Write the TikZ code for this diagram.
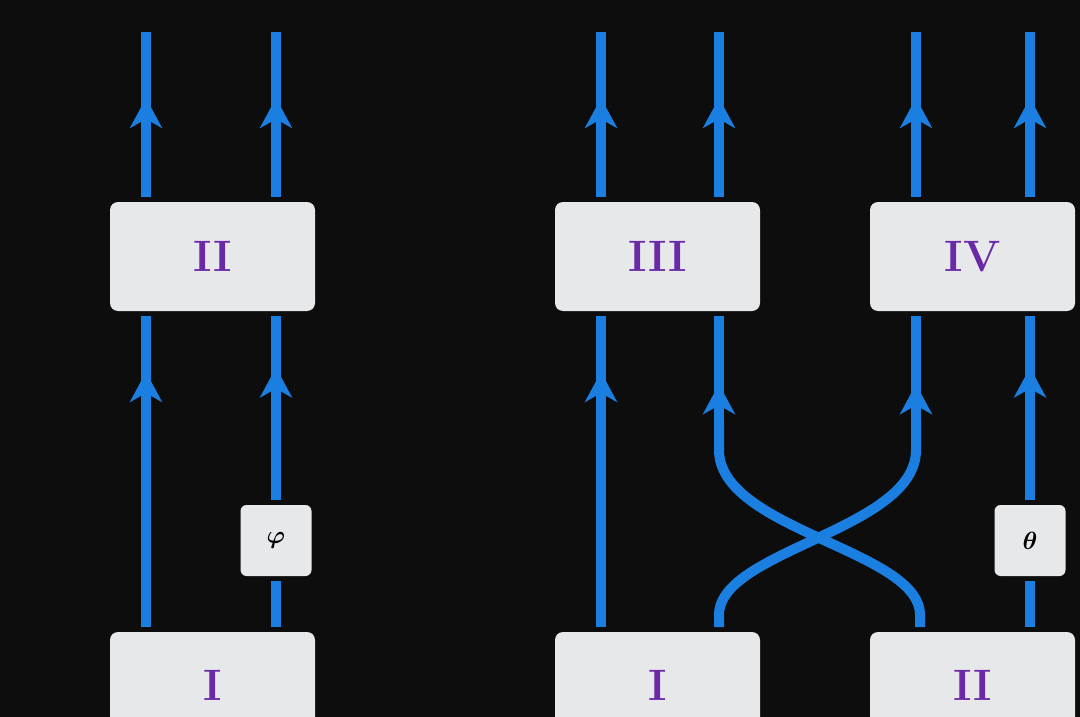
\documentclass[tikz,border=0pt]{standalone}
\usepackage{bm}
\usetikzlibrary{arrows.meta,decorations.markings}
\definecolor{bg}{HTML}{0D0D0D}
\definecolor{wire}{HTML}{1A7FE0}
\definecolor{boxc}{HTML}{E7E8EA}
\definecolor{lab}{HTML}{6A2AA8}
\begin{document}
\begin{tikzpicture}[x=1pt,y=-1pt,
  box/.style={fill=boxc,rounded corners=8pt,draw=none},
  lbl/.style={text=lab,font=\fontsize{44}{44}\selectfont\bfseries},
  gbox/.style={fill=boxc,rounded corners=6pt,inner sep=0pt,minimum width=71pt,minimum height=71pt,font=\fontsize{40}{40}\selectfont},
  w/.style={draw=wire,line width=10pt},
  arr/.style={w,postaction={decorate},decoration={markings,mark=at position #1 with {\arrow{Stealth[length=30pt,width=32pt,inset=9pt]}}}}]
\useasboundingbox (0,0) rectangle (1080,717);
\fill[bg] (0,0) rectangle (1080,717);
\begin{scope}
\clip (0,0) rectangle (1080,717);
% boxes
\node[box,minimum width=205pt,minimum height=109pt,lbl] (L2) at (212.5,256.5) {II};
\node[box,minimum width=205pt,minimum height=109pt,lbl] (L1) at (212.5,686.5) {\raisebox{2pt}{I}};
\node[box,minimum width=205pt,minimum height=109pt,lbl] (R3) at (657.5,256.5) {III};
\node[box,minimum width=205pt,minimum height=109pt,lbl] (R4) at (972.5,256.5) {IV};
\node[box,minimum width=205pt,minimum height=109pt,lbl] (R1) at (657.5,686.5) {\raisebox{2pt}{I}};
\node[box,minimum width=205pt,minimum height=109pt,lbl] (R2) at (972.5,686.5) {\raisebox{2pt}{II}};
\end{scope}
\node[gbox] (phi) at (276,540.5) {$\bm{\varphi}$};
\node[gbox] (th) at (1030,540.5) {$\bm{\theta}$};
% coordinates for wire ends
\foreach \x/\n in {146/a,276/b,601/c,719/d,916/e,1030/f}{
  \coordinate (t\n) at (\x,32);
  \coordinate (u\n) at (\x,197);
  \coordinate (m\n) at (\x,316);
  \coordinate (l\n) at (\x,627);
}
\coordinate (pt) at (276,500); \coordinate (pb) at (276,581);
\coordinate (qt) at (1030,500); \coordinate (qb) at (1030,581);
% top wires
\foreach \n in {a,b,c,d,e,f}{ \draw[arr=0.6] (u\n) -- (t\n); }
% left middle
\draw[arr=0.82] (la) -- (ma);
\draw[arr=0.72] (pt) -- (mb);
\draw[w] (lb) -- (pb);
% right middle
\draw[arr=0.82] (lc) -- (mc);
\draw[arr=0.72] (qt) -- (mf);
\draw[w] (lf) -- (qb);
% crossing
\draw[w] (ld) -- (719,615) .. controls (719,550) and (916,530) .. (916,450) -- (916,420);
\draw[w] (920,627) -- (920,615) .. controls (920,550) and (719,530) .. (719,450) -- (719,420);
\draw[arr=0.45] (916,440) -- (me);
\draw[arr=0.45] (719,440) -- (md);
\end{tikzpicture}
\end{document}
